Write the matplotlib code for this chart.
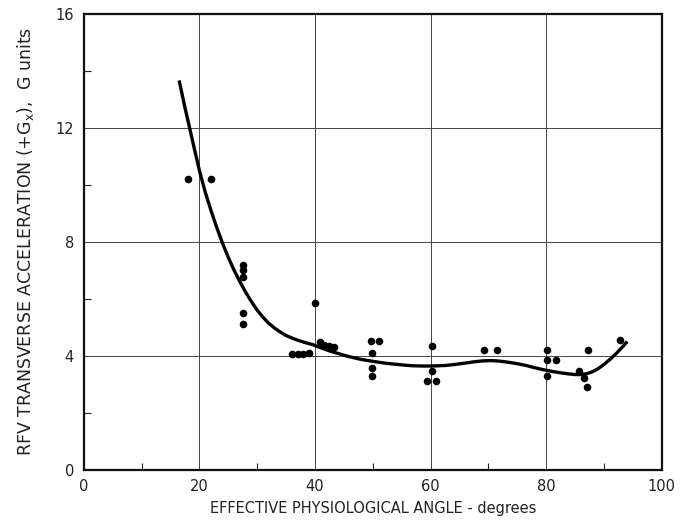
import matplotlib
matplotlib.use("Agg")
import matplotlib.pyplot as plt
from matplotlib.ticker import MultipleLocator

# Data points (effective physiological angle, degrees ; acceleration, G)
pts_x = [18, 22, 27.5, 27.5, 27.5, 27.5, 27.5,
         36, 37, 38, 39, 40, 40.8, 41.6, 42.5, 43.3,
         49.7, 51.1, 49.8, 49.8, 49.8,
         60.2, 60.2, 59.4, 60.9,
         69.3, 71.4,
         80.2, 80.2, 81.7, 80.2,
         85.7, 86.6, 87.1, 87.2, 92.7]
pts_y = [10.2, 10.2, 7.2, 7.0, 6.75, 5.5, 5.1,
         4.07, 4.07, 4.07, 4.1, 5.85, 4.5, 4.39, 4.33, 4.3,
         4.53, 4.53, 4.09, 3.57, 3.3,
         4.33, 3.45, 3.13, 3.13,
         4.19, 4.19,
         4.19, 3.86, 3.84, 3.3,
         3.45, 3.22, 2.89, 4.21, 4.56]

# Fitted curve
curve_x = [16.5, 17.4, 18.3, 19.2, 20, 21, 22, 23, 24, 25, 26, 27, 28, 29, 30,
           31, 32, 33, 34, 35, 36.5, 38, 39.6, 41, 42.5, 44, 45.3, 46.5, 48,
           49.5, 51.1, 52.5, 54, 55.5, 56.8, 58.5, 60, 61.5, 62.6, 64, 65.5,
           67.6, 69, 70.5, 72, 73.5, 75, 76.5, 78, 79.5, 81, 82.5, 84, 85, 86,
           87, 88, 89, 90, 91, 92, 93, 94]
curve_y = [13.66, 12.8, 12.0, 11.2, 10.5, 9.75, 9.1, 8.5, 7.95, 7.45, 7.0,
           6.6, 6.23, 5.9, 5.6, 5.35, 5.14, 4.97, 4.83, 4.71, 4.58, 4.48, 4.39,
           4.28, 4.17, 4.08, 4.0, 3.94, 3.87, 3.82, 3.77, 3.73, 3.7, 3.67, 3.65,
           3.64, 3.64, 3.65, 3.66, 3.69, 3.73, 3.79, 3.82, 3.83, 3.81, 3.77,
           3.72, 3.66, 3.58, 3.51, 3.45, 3.4, 3.36, 3.34, 3.34, 3.37, 3.44,
           3.55, 3.7, 3.87, 4.06, 4.27, 4.5]

x_major = [0, 20, 40, 60, 80, 100]
y_major = [0, 4, 8, 12, 16]

fig = plt.figure(figsize=(6.81, 5.29), dpi=100)
ax = fig.add_axes([0.123, 0.112, 0.849, 0.862])

ax.set_xlim(0, 100)
ax.set_ylim(0, 16)

ax.set_xticks(x_major)
ax.set_yticks(y_major)
ax.xaxis.set_minor_locator(MultipleLocator(10))
ax.yaxis.set_minor_locator(MultipleLocator(2))

for v in x_major[1:-1]:
    ax.axvline(v, color="#444444", lw=0.7, zorder=1)
for v in y_major[1:-1]:
    ax.axhline(v, color="#444444", lw=0.7, zorder=1)

ax.tick_params(which="major", length=0, labelsize=10.5, pad=7, colors="#222222")
ax.tick_params(which="minor", direction="in", length=5, width=0.8, color="#222222")
ax.tick_params(axis="x", which="minor", top=False)
ax.tick_params(axis="y", which="minor", right=False)

for s in ax.spines.values():
    s.set_linewidth(1.6)
    s.set_color("#111111")

ax.plot(curve_x, curve_y, color="black", lw=2.4, zorder=3,
        solid_capstyle="butt", solid_joinstyle="round")
ax.scatter(pts_x, pts_y, s=30, color="black", zorder=4, linewidths=0)

ax.set_xlabel("EFFECTIVE PHYSIOLOGICAL ANGLE - degrees", fontsize=10.5,
              labelpad=5, color="#222222")
ax.set_ylabel("RFV TRANSVERSE ACCELERATION (+G$_\\mathregular{x}$),  G units",
              fontsize=12.5, labelpad=14, color="#222222")

fig.savefig("out.png", dpi=100)
